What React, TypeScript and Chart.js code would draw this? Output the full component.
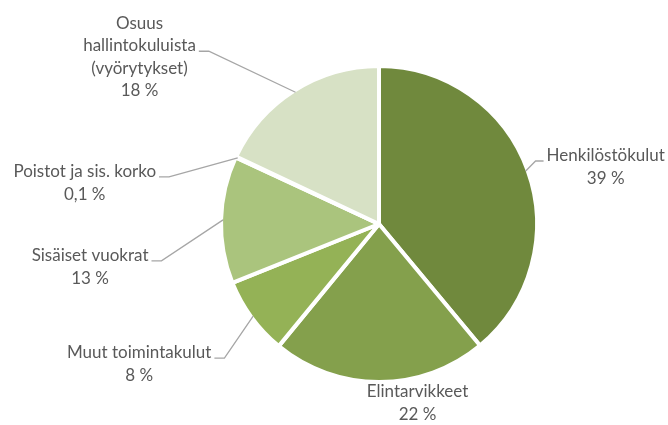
import React, { useEffect, useRef } from "react";
import { Chart, registerables } from "chart.js";

Chart.register(...registerables);

const categories = [
  "Henkilöstökulut",
  "Elintarvikkeet",
  "Muut toimintakulut",
  "Sisäiset vuokrat",
  "Poistot ja sis. korko",
  "Osuus hallintokuluista (vyörytykset)",
];
const labelLines = [
  ["Henkilöstökulut"],
  ["Elintarvikkeet"],
  ["Muut toimintakulut"],
  ["Sisäiset vuokrat"],
  ["Poistot ja sis. korko"],
  ["Osuus", "hallintokuluista", "(vyörytykset)"],
];
const values = [39, 22, 8, 13, 0.1, 18];
const pctLabels = ["39 %", "22 %", "8 %", "13 %", "0,1 %", "18 %"];
const colors = ["#70893d", "#84a04c", "#94b256", "#aac47d", "#c3d4a2", "#d7e1c5"];

// label placement (offset of text block centre from slice edge point) and leader side
const labelOffsets = [
  { dx: 80, dy: -4, side: "right" },
  { dx: 38, dy: 23, side: "none" },
  { dx: -114, dy: 48, side: "left" },
  { dx: -133, dy: 47, side: "left" },
  { dx: -153, dy: 25, side: "left" },
  { dx: -156, dy: -35, side: "left" },
];

const FONT = "17px Lato, 'Open Sans', sans-serif";
const LINE_H = 22.5;

const labelPlugin = {
  id: "sliceLabels",
  afterDraw(chart: any) {
    const ctx = chart.ctx;
    const meta = chart.getDatasetMeta(0);
    ctx.save();
    ctx.font = FONT;
    ctx.textAlign = "center";
    ctx.textBaseline = "middle";
    meta.data.forEach((arc: any, i: number) => {
      const { x, y, startAngle, endAngle, outerRadius } = arc.getProps(
        ["x", "y", "startAngle", "endAngle", "outerRadius"],
        true
      );
      const mid = (startAngle + endAngle) / 2;
      const ex = x + Math.cos(mid) * (outerRadius - 2);
      const ey = y + Math.sin(mid) * (outerRadius - 2);
      const off = labelOffsets[i];
      const cx = ex + off.dx;
      const cy = ey + off.dy;
      const lines = [...labelLines[i], pctLabels[i]];
      const n = lines.length;
      const top = cy - ((n - 1) * LINE_H) / 2;
      ctx.fillStyle = "#595959";
      lines.forEach((t, k) => ctx.fillText(t, cx, top + k * LINE_H));
      const w = Math.max(...labelLines[i].map((t) => ctx.measureText(t).width));
      const ly = cy - 6;
      if (off.side !== "none") {
        ctx.strokeStyle = "#a6a6a6";
        ctx.lineWidth = 1.3;
        ctx.beginPath();
        if (off.side === "left") {
          const sx = cx + w / 2 + 3;
          ctx.moveTo(sx, ly);
          ctx.lineTo(sx + 10, ly);
        } else {
          const sx = cx - w / 2 - 3;
          ctx.moveTo(sx, ly);
          ctx.lineTo(sx - 8, ly);
        }
        ctx.lineTo(ex, ey);
        ctx.stroke();
      }
    });
    ctx.restore();
  },
};

export default function App() {
  const ref = useRef<HTMLCanvasElement>(null);
  useEffect(() => {
    document.body.style.margin = "0";
    const chart = new Chart(ref.current!, {
      type: "pie",
      data: {
        labels: categories,
        datasets: [
          {
            data: values,
            backgroundColor: colors,
            borderColor: "#ffffff",
            borderWidth: 4,
            hoverBorderWidth: 4,
          },
        ],
      },
      options: {
        responsive: false,
        animation: false,
        radius: 158,
        layout: { padding: { left: 150, right: 60, top: 40, bottom: 17 } },
        plugins: {
          legend: { display: false },
          tooltip: { enabled: false },
        },
      } as any,
      plugins: [labelPlugin],
    });
    return () => chart.destroy();
  }, []);
  return (
    <div style={{ width: 668, height: 425, background: "#fff" }}>
      <canvas ref={ref} width={668} height={425} />
    </div>
  );
}
